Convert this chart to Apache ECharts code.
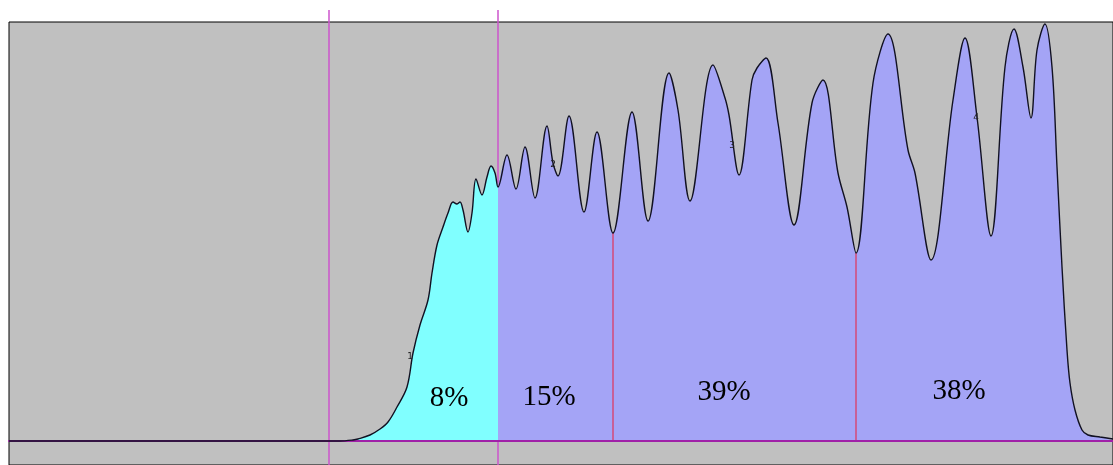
<!DOCTYPE html>
<html>
<head>
<meta charset="utf-8">
<script src="https://cdn.jsdelivr.net/npm/echarts@6/dist/echarts.min.js"></script>
<style>
html,body{margin:0;padding:0;background:#fff;}
#chart{width:1113px;height:465px;}
</style>
</head>
<body>
<div id="chart"></div>
<script>
// Channel (x) and count (y)
const curveX = [0,331,344,349,361,371,379,388,398,404,411,419,423,428,434,439,444,448,451,454,459,463,467,473,478,482,486,489,
  498,507,516,526,538,544,549,560,575,588,604,623,639,660,669,681,704,716,720,730,743,748,757,769,785,803,814,829,838,847,
  864,879,899,906,922,944,956,968,982,996,1005,1014,1022,1028,1036,1043,1048,1053,1058,1061,1066,1073,1079,1091,1104];
const curveY = [0,0,1,2,6,12,19,34,54,88,116,141,168,196,214,228,239,237,239,231,209,228,262,246,264,275,268,254,
  286,252,294,243,315,278,265,325,229,309,208,329,220,368,331,240,376,343,326,266,361,373,383,318,216,338,361,268,234,188,
  358,407,291,268,181,341,403,324,205,374,412,374,323,391,417,374,274,174,91,58,31,11,6,4,2];
const gateSplit = 489;           // boundary between cyan and lavender regions
const gateLines = [320, 489];    // magenta gate markers
const dividerX = [604, 847];     // red divider lines
const dividerY = [208, 188];
const pctText = ['8%', '15%', '39%', '38%'];
const pctX = [440, 540, 715, 950];
const pctY = [43, 44, 49, 50];
const peakText = ['1', '2', '3', '4'];
const peakX = [401, 544, 723, 967];
const peakY = [84, 276, 295, 323];

const X_MIN = 0, X_MAX = 1104, Y_MIN = -24, Y_MAX = 419;

const pts = curveX.map((x, i) => [x, curveY[i]]);
const leftPts = pts.filter(p => p[0] <= gateSplit);
const rightPts = pts.filter(p => p[0] >= gateSplit);
const SMOOTH = 0.35;

const chart = echarts.init(document.getElementById('chart'), null, {renderer: 'canvas'});
chart.setOption({
  animation: false,
  backgroundColor: '#ffffff',
  grid: {left: 9, top: 22, right: 0, bottom: 0, show: true,
    backgroundColor: '#C0C0C0', borderColor: '#000000', borderWidth: 1},
  xAxis: {type: 'value', min: X_MIN, max: X_MAX, z: 3,
    axisLine: {show: true, onZero: true, lineStyle: {color: '#A020A8', width: 2}},
    axisTick: {show: false}, axisLabel: {show: false}, splitLine: {show: false}},
  yAxis: {type: 'value', min: Y_MIN, max: Y_MAX,
    axisLine: {show: false}, axisTick: {show: false}, axisLabel: {show: false}, splitLine: {show: false}},
  series: [
    {
      type: 'custom', z: 1, clip: false,
      data: gateLines.map(x => [x, 0]),
      renderItem: (params, api) => {
        const t = api.coord([api.value(0), Y_MAX]);
        const b = api.coord([api.value(0), Y_MIN]);
        return {type: 'line', shape: {x1: t[0], y1: t[1] - 12, x2: t[0], y2: b[1]},
          style: {stroke: '#CC55CC', lineWidth: 1.5}};
      }
    },
    {
      type: 'line', z: 2, data: leftPts, smooth: SMOOTH, symbol: 'none',
      lineStyle: {width: 0, opacity: 0}, areaStyle: {color: '#80FFFF', opacity: 1}
    },
    {
      type: 'line', z: 2, data: rightPts, smooth: SMOOTH, symbol: 'none',
      lineStyle: {width: 0, opacity: 0}, areaStyle: {color: '#A4A4F6', opacity: 1}
    },
    {
      type: 'custom', z: 3,
      data: dividerX.map((x, i) => [x, dividerY[i]]),
      renderItem: (params, api) => {
        const t = api.coord([api.value(0), api.value(1)]);
        const b = api.coord([api.value(0), 0]);
        return {type: 'line', shape: {x1: t[0], y1: t[1], x2: b[0], y2: b[1]},
          style: {stroke: '#DC3C64', lineWidth: 1.3}};
      }
    },
    {
      type: 'line', z: 4, data: pts, smooth: SMOOTH, symbol: 'none',
      lineStyle: {color: '#111122', width: 1.4}
    },
    {
      type: 'custom', z: 5,
      data: pctX.map((x, i) => [x, pctY[i], i]),
      renderItem: (params, api) => {
        const p = api.coord([api.value(0), api.value(1)]);
        return {type: 'text', x: p[0], y: p[1],
          style: {text: pctText[api.value(2)], fill: '#000000',
            font: '29px "Liberation Serif", "Times New Roman", serif', align: 'center', verticalAlign: 'middle'}};
      }
    },
    {
      type: 'custom', z: 5,
      data: peakX.map((x, i) => [x, peakY[i], i]),
      renderItem: (params, api) => {
        const p = api.coord([api.value(0), api.value(1)]);
        return {type: 'text', x: p[0], y: p[1],
          style: {text: peakText[api.value(2)], fill: '#222222',
            font: '9px "DejaVu Sans", sans-serif', align: 'center', verticalAlign: 'middle'}};
      }
    }
  ]
});
</script>
</body>
</html>
